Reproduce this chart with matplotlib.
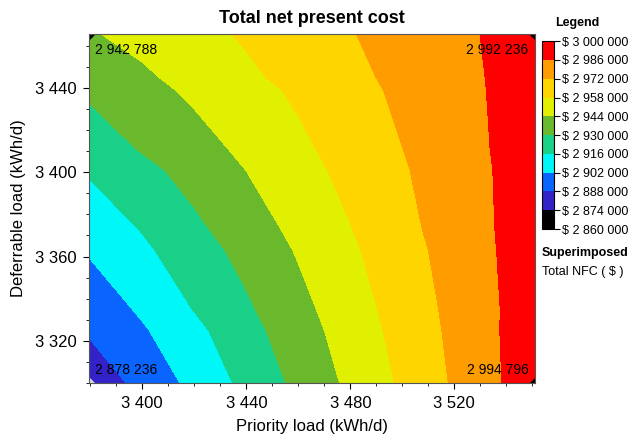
import numpy as np
import matplotlib
matplotlib.use("Agg")
import matplotlib.pyplot as plt
from matplotlib.colors import ListedColormap, BoundaryNorm
from matplotlib.ticker import MultipleLocator, FuncFormatter

plt.rcParams['font.family'] = ['Liberation Sans', 'DejaVu Sans']

# sensitivity grid (kWh/d)
priority = [3379.5, 3400, 3420, 3440, 3460, 3480, 3500, 3520, 3540, 3551]
deferrable = [3300, 3325, 3335, 3363, 3373, 3401, 3411, 3439, 3445, 3465.5]

# total NPC in thousand $, rows = deferrable (bottom to top), cols = priority
npc_3300 = [2878.236, 2892.3, 2905.7, 2919.7, 2933.3, 2946.8, 2960.0, 2973.6, 2987.2, 2994.796]
npc_3325 = [2889.7, 2900.4, 2912.5, 2925.2, 2937.8, 2950.2, 2962.6, 2975.0, 2987.6, 2994.5]
npc_3335 = [2893.0, 2904.1, 2916.5, 2927.9, 2939.9, 2951.8, 2963.7, 2975.6, 2987.4, 2994.2]
npc_3363 = [2903.3, 2913.5, 2923.8, 2934.3, 2945.2, 2955.8, 2966.6, 2977.4, 2988.0, 2993.8]
npc_3373 = [2907.0, 2916.7, 2927.1, 2937.3, 2947.4, 2957.5, 2968.1, 2978.3, 2988.2, 2993.6]
npc_3401 = [2917.5, 2926.2, 2935.0, 2944.1, 2953.0, 2961.9, 2970.7, 2979.5, 2988.3, 2993.3]
npc_3411 = [2921.3, 2931.1, 2938.8, 2946.8, 2955.2, 2963.5, 2971.9, 2980.3, 2988.6, 2993.1]
npc_3439 = [2932.5, 2939.6, 2946.5, 2953.3, 2960.2, 2967.5, 2974.6, 2981.7, 2988.7, 2992.7]
npc_3445 = [2934.9, 2941.8, 2948.7, 2955.5, 2962.1, 2968.7, 2975.4, 2982.1, 2988.7, 2992.6]
npc_3466 = [2942.788, 2948.1, 2953.8, 2959.6, 2965.5, 2971.3, 2977.2, 2983.1, 2989.0, 2992.236]

levels = [2860, 2874, 2888, 2902, 2916, 2930, 2944, 2958, 2972, 2986, 3000]
colors = ['#000000', '#3322c8', '#0a64ff', '#00f7f7', '#1ad088',
          '#6ab82c', '#e0f000', '#ffd500', '#ff9c00', '#ff0000']

Z = np.array([npc_3300, npc_3325, npc_3335, npc_3363, npc_3373,
              npc_3401, npc_3411, npc_3439, npc_3445, npc_3466])
X, Y = np.meshgrid(priority, deferrable)

def money(v):
    return f"{int(round(v * 1000)):,}".replace(",", " ")

cmap = ListedColormap(colors)
norm = BoundaryNorm(levels, cmap.N)

fig = plt.figure(figsize=(6.32, 4.40), dpi=100)
ax = fig.add_axes([0.1408, 0.1295, 0.7057, 0.793])
cs = ax.contourf(X, Y, Z, levels=levels, cmap=cmap, norm=norm)

ax.set_xlim(priority[0], priority[-1])
ax.set_ylim(deferrable[0], deferrable[-1])

thou = FuncFormatter(lambda v, p: f"{v:,.0f}".replace(",", " "))
ax.xaxis.set_major_locator(MultipleLocator(40))
ax.xaxis.set_minor_locator(MultipleLocator(10))
ax.yaxis.set_major_locator(MultipleLocator(40))
ax.yaxis.set_minor_locator(MultipleLocator(10))
ax.xaxis.set_major_formatter(thou)
ax.yaxis.set_major_formatter(thou)
ax.tick_params(which='major', length=4, labelsize=12, pad=5)
ax.tick_params(which='minor', length=2)
for s in ax.spines.values():
    s.set_linewidth(0.8)
    s.set_color('#555555')

ax.set_xlabel('Priority load (kWh/d)', fontsize=12, labelpad=6)
ax.set_ylabel('Deferrable load (kWh/d)', fontsize=12, labelpad=6)
ax.set_title('Total net present cost', fontsize=13, fontweight='bold', pad=8)

# corner values
ax.text(0.013, 0.955, money(Z[-1, 0]), transform=ax.transAxes, fontsize=10, va='center', ha='left')
ax.text(0.985, 0.955, money(Z[-1, -1]), transform=ax.transAxes, fontsize=10, va='center', ha='right')
ax.text(0.013, 0.037, money(Z[0, 0]), transform=ax.transAxes, fontsize=10, va='center', ha='left')
ax.text(0.985, 0.037, money(Z[0, -1]), transform=ax.transAxes, fontsize=10, va='center', ha='right')
# corner markers
for cx, cy, mc in [(priority[0], deferrable[-1], 'k'), (priority[-1], deferrable[-1], 'k'),
                   (priority[-1], deferrable[0], 'k'), (priority[0], deferrable[0], '#dddddd')]:
    ax.plot([cx], [cy], marker='D', ms=6, color=mc, mec='none', clip_on=True)

# legend colour bar
cax = fig.add_axes([0.8576, 0.4795, 0.019, 0.427])
cb = fig.colorbar(cs, cax=cax, ticks=levels)
cb.ax.set_yticklabels(["\\$ " + money(l) for l in levels])
cb.ax.tick_params(labelsize=9, length=4, pad=2, width=0.8)
cb.outline.set_linewidth(0.8)

fig.text(0.878, 0.948, 'Legend', fontsize=9, fontweight='bold', va='center', ha='left')
fig.text(0.857, 0.425, 'Superimposed', fontsize=9, fontweight='bold', va='center', ha='left')
fig.text(0.857, 0.382, 'Total NFC ( \\$ )', fontsize=9, va='center', ha='left')

fig.savefig('out.png', dpi=100)
